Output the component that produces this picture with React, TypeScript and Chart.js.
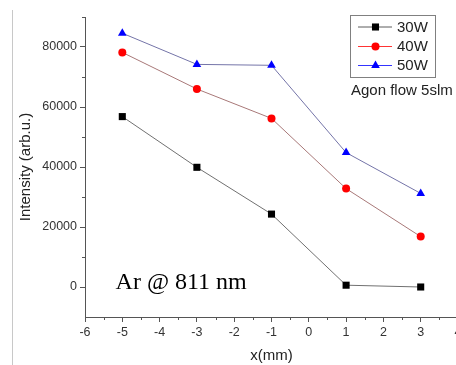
import React, { useEffect, useRef } from "react";
import { Chart, registerables } from "chart.js";

Chart.register(...registerables);

// ---- data ----
const xPositions = [-5, -3, -1, 1, 3];
const intensity30W = [56800, 39900, 24300, 600, 0];
const intensity40W = [78200, 66000, 56200, 32800, 16800];
const intensity50W = [84600, 74200, 73900, 44800, 31200];
const seriesLabels = ["30W", "40W", "50W"];
const xTickValues = [-6, -5, -4, -3, -2, -1, 0, 1, 2, 3, 4];
const xMinorTickValues = [-5.5, -4.5, -3.5, -2.5, -1.5, -0.5, 0.5, 1.5, 2.5, 3.5];
const yTickValues = [0, 20000, 40000, 60000, 80000];
const yMinorTickValues = [10000, 30000, 50000, 70000, 90000];
const noteText = "Ar @ 811 nm";
const flowText = "Agon flow 5slm";

const SANS = "'Liberation Sans', Arial, sans-serif";
const AXIS_COLOR = "#555";

const pointColors = ["#000000", "#ff0000", "#0000ff"];
const lineColors = ["#707070", "#a87878", "#7474a8"];
const pointStyles = ["rect", "circle", "triangle"] as const;
const pointRadii = [5, 4, 5];

function drawMarker(ctx: CanvasRenderingContext2D, style: string, x: number, y: number, r: number, color: string) {
  ctx.fillStyle = color;
  ctx.beginPath();
  if (style === "rect") {
    const s = Math.SQRT1_2 * r;
    ctx.rect(x - s, y - s, 2 * s, 2 * s);
  } else if (style === "circle") {
    ctx.arc(x, y, r, 0, Math.PI * 2);
  } else {
    let rad = 0;
    ctx.moveTo(x + Math.sin(rad) * r, y - Math.cos(rad) * r);
    rad += (2 * Math.PI) / 3;
    ctx.lineTo(x + Math.sin(rad) * r, y - Math.cos(rad) * r);
    rad += (2 * Math.PI) / 3;
    ctx.lineTo(x + Math.sin(rad) * r, y - Math.cos(rad) * r);
    ctx.closePath();
  }
  ctx.fill();
}

const extrasPlugin = {
  id: "extras",
  afterDraw(chart: any) {
    const { ctx, chartArea } = chart;
    const xs = chart.scales.x;
    const ys = chart.scales.y;
    ctx.save();
    // minor ticks
    ctx.strokeStyle = AXIS_COLOR;
    ctx.lineWidth = 1;
    ctx.beginPath();
    xMinorTickValues.forEach((v) => {
      const px = Math.round(xs.getPixelForValue(v)) + 0.5;
      ctx.moveTo(px, chartArea.bottom);
      ctx.lineTo(px, chartArea.bottom + 3);
    });
    yMinorTickValues.forEach((v) => {
      const py = Math.round(ys.getPixelForValue(v)) + 0.5;
      ctx.moveTo(chartArea.left - 3, py);
      ctx.lineTo(chartArea.left, py);
    });
    ctx.stroke();

    // annotation text
    ctx.font = "24px 'Liberation Serif', 'Times New Roman', serif";
    ctx.fillStyle = "#000";
    ctx.textBaseline = "alphabetic";
    ctx.textAlign = "left";
    ctx.fillText(noteText, xs.getPixelForValue(-5.18), ys.getPixelForValue(-700));

    // legend box
    const bx = 350.5, by = 15.5, bw = 85, bh = 62;
    ctx.strokeStyle = "#808080";
    ctx.lineWidth = 1;
    ctx.strokeRect(bx, by, bw, bh);
    const rowY = [27, 46.5, 65.5];
    ctx.font = "15px " + SANS;
    ctx.textBaseline = "middle";
    seriesLabels.forEach((lbl, i) => {
      const yy = rowY[i];
      ctx.strokeStyle = i === 0 ? "#333" : pointColors[i];
      ctx.lineWidth = 0.8;
      ctx.beginPath();
      ctx.moveTo(358, yy);
      ctx.lineTo(392, yy);
      ctx.stroke();
      drawMarker(ctx, pointStyles[i], 375.5, yy, pointRadii[i], pointColors[i]);
      ctx.fillStyle = "#222";
      ctx.fillText(lbl, 397, yy + 0.5);
    });
    ctx.textBaseline = "alphabetic";
    ctx.fillStyle = "#222";
    ctx.fillText(flowText, 351, 94.5);
    ctx.restore();
  },
};

export default function App() {
  const canvasRef = useRef<HTMLCanvasElement | null>(null);

  useEffect(() => {
    const canvas = canvasRef.current;
    if (!canvas) return;
    const seriesData = [intensity30W, intensity40W, intensity50W];
    const chart = new Chart(canvas, {
      type: "line",
      data: {
        datasets: seriesData.map((vals, i) => ({
          label: seriesLabels[i],
          data: xPositions.map((xv, k) => ({ x: xv, y: vals[k] })),
          borderColor: lineColors[i],
          borderWidth: 1,
          backgroundColor: pointColors[i],
          pointBackgroundColor: pointColors[i],
          pointBorderColor: pointColors[i],
          pointBorderWidth: 0,
          pointStyle: pointStyles[i],
          pointRadius: pointRadii[i],
          tension: 0,
          fill: false,
        })),
      },
      options: {
        animation: false,
        responsive: false,
        devicePixelRatio: 1,
        layout: { padding: { left: 0, right: 12, top: 17, bottom: 0 } },
        plugins: {
          legend: { display: false },
          tooltip: { enabled: false },
        },
        scales: {
          x: {
            type: "linear",
            position: "bottom",
            min: -6,
            max: 4,
            afterBuildTicks: (scale: any) => {
              scale.ticks = xTickValues.map((v) => ({ value: v }));
            },
            afterFit: (scale: any) => {
              scale.height = 48;
            },
            grid: {
              display: true,
              drawOnChartArea: false,
              drawTicks: true,
              tickLength: 5,
              color: AXIS_COLOR,
              lineWidth: 1,
            },
            border: { display: true, color: AXIS_COLOR, width: 1 },
            ticks: {
              autoSkip: false,
              maxRotation: 0,
              padding: 3,
              color: "#333",
              font: { family: SANS, size: 12.5 },
              callback: (v: any) => String(v),
            },
            title: {
              display: true,
              text: "x(mm)",
              color: "#222",
              font: { family: SANS, size: 15 },
              padding: { top: 0, bottom: 0 },
            },
          },
          y: {
            type: "linear",
            min: -10000,
            max: 90000,
            afterBuildTicks: (scale: any) => {
              scale.ticks = yTickValues.map((v) => ({ value: v }));
            },
            afterFit: (scale: any) => {
              scale.width = 85;
            },
            grid: {
              display: true,
              drawOnChartArea: false,
              drawTicks: true,
              tickLength: 5,
              color: AXIS_COLOR,
              lineWidth: 1,
            },
            border: { display: true, color: AXIS_COLOR, width: 1 },
            ticks: {
              padding: 3,
              color: "#333",
              font: { family: SANS, size: 12.5 },
              callback: (v: any) => String(v),
            },
            title: {
              display: true,
              text: "Intensity (arb.u.)",
              color: "#222",
              font: { family: SANS, size: 15 },
              padding: { top: 17, bottom: 0 },
            },
          },
        },
      },
      plugins: [extrasPlugin],
    } as any);
    return () => chart.destroy();
  }, []);

  return (
    <div
      style={{
        position: "fixed",
        left: 0,
        top: 0,
        width: 456,
        height: 365,
        overflow: "hidden",
        background: "#fff",
      }}
    >
      <div
        style={{
          position: "absolute",
          left: 12,
          top: 10,
          width: 1,
          height: 355,
          background: "#c8c8c8",
        }}
      />
      <canvas
        ref={canvasRef}
        width={470}
        height={365}
        style={{ position: "absolute", left: 0, top: 0, display: "block" }}
      />
    </div>
  );
}
